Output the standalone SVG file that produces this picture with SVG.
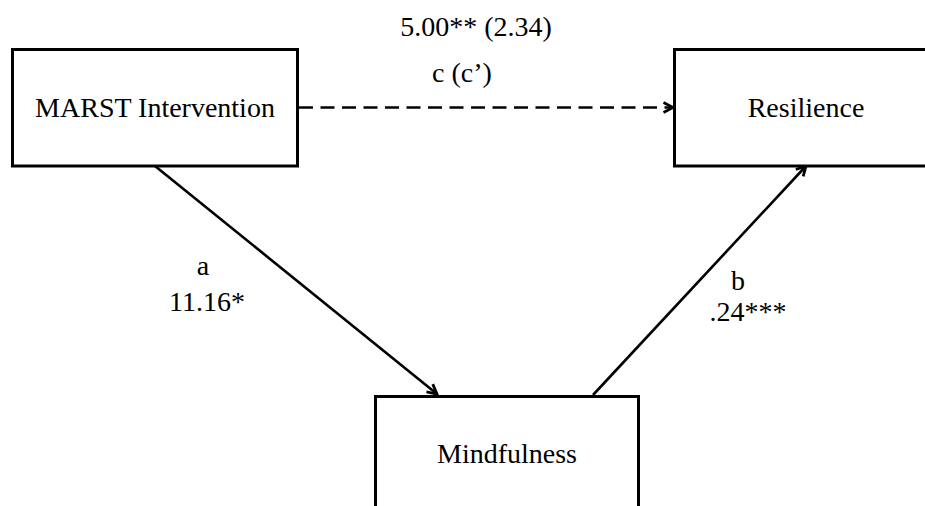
<svg xmlns="http://www.w3.org/2000/svg" width="925" height="506" viewBox="0 0 925 506">
<style>
.box{fill:#fff;stroke:#000;stroke-width:3}
.lbl{font-family:"Liberation Serif","Times New Roman",serif;font-size:28px;fill:#000;text-anchor:middle}
.con{stroke:#000;stroke-width:2.6;fill:none}
.dash{stroke-dasharray:14 7.5}
</style>
<defs>
<marker id="arr" markerUnits="userSpaceOnUse" viewBox="0 0 14 14" refX="12.5" refY="7" markerWidth="14" markerHeight="14" orient="auto">
<path d="M3,2 L12.5,7 L3,12" fill="none" stroke="#000" stroke-width="2.8" stroke-linejoin="miter"/>
</marker>
</defs>
<rect width="925" height="506" fill="#fff"/>
<g id="connectors">
<line class="con dash" x1="299" y1="107.5" x2="673" y2="107.5" marker-end="url(#arr)"/>
<line class="con" x1="155" y1="166" x2="437" y2="394" marker-end="url(#arr)"/>
<line class="con" x1="593" y1="395" x2="806" y2="166" marker-end="url(#arr)"/>
</g>
<g id="node-marst">
<rect class="box" x="12.5" y="49.5" width="285" height="116.5"/>
<text class="lbl" x="155" y="117">MARST Intervention</text>
</g>
<g id="node-resilience">
<rect class="box" x="674.5" y="49.5" width="270" height="116.5"/>
<text class="lbl" x="806" y="117">Resilience</text>
</g>
<g id="node-mindfulness">
<rect class="box" x="375.5" y="396.5" width="263" height="130"/>
<text class="lbl" x="507" y="463">Mindfulness</text>
</g>
<g id="labels">
<text class="lbl" x="476" y="36">5.00** (2.34)</text>
<text class="lbl" x="462" y="82">c (c’)</text>
<text class="lbl" x="203" y="275">a</text>
<text class="lbl" x="207" y="311">11.16*</text>
<text class="lbl" x="738" y="290">b</text>
<text class="lbl" x="748" y="321">.24***</text>
</g>
</svg>
